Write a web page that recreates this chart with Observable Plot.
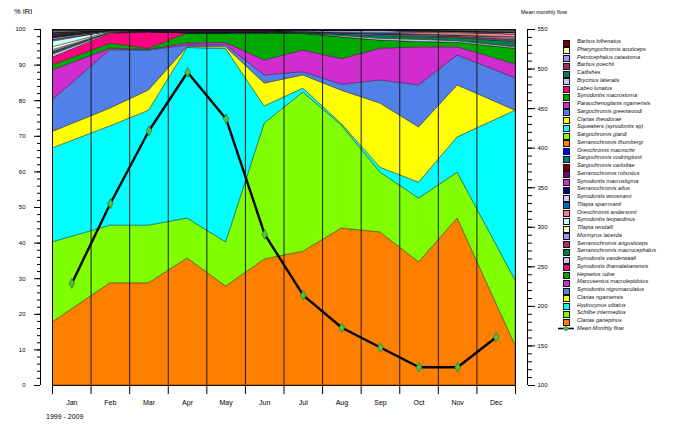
<!DOCTYPE html>
<html><head><meta charset="utf-8">
<script src="https://cdn.jsdelivr.net/npm/d3@7"></script>
<script src="https://cdn.jsdelivr.net/npm/@observablehq/plot@0.6"></script>
<style>
body{margin:0;background:#fff;font-family:"Liberation Sans",Arial,sans-serif;}
#wrap{position:relative;width:673px;height:426px;overflow:hidden;}
#wrap svg{position:absolute;left:0;top:0;}
.lbl{position:absolute;white-space:nowrap;color:#000;line-height:1;}
.leg{position:absolute;left:558px;height:8px;white-space:nowrap;}
.sw{position:absolute;left:5px;top:1px;width:5px;height:5px;border:0.6px solid #111;}
.lt{position:absolute;left:19px;top:0.5px;font-size:5.6px;font-style:italic;line-height:1;color:#111;}
</style></head><body><div id="wrap"></div>
<script>
// ---- data ----
const months = ["Jan","Feb","Mar","Apr","May","Jun","Jul","Aug","Sep","Oct","Nov","Dec"];
const meanMonthlyFlow = [229,330,422,496,437,291,214,173,148,123,123,161];
const flowTicks = [100,150,200,250,300,350,400,450,500,550];
const iriTicks = [0,10,20,30,40,50,60,70,80,90,100];

// %IRI per species (stack order: bottom to top)
const clariasGariepinus        = [17.7,28.7,28.7,35.7,27.8,35.4,37.6,44.1,43.0,34.6,46.9,11.2];
const schilbeIntermedius       = [22.5,16.2,16.2,11.2,12.4,38.2,44.7,28.9,16.8,17.9,12.9,18.3];
const hydrocynusVittatus       = [26.4,27.9,32.3,47.9,54.3,4.8,1.1,0.4,1.4,4.5,9.9,47.7];
const clariasNgamensis         = [4.6,5.0,5.7,0.2,0.5,6.4,3.7,9.4,18.0,15.5,14.6,0.0];
const synodontisNigromaculatus = [8.9,16.4,11.2,0.5,0.6,2.3,0.9,1.7,6.5,11.8,8.4,9.1];
const marcuseniusMacrolepidotus= [8.4,0.4,0.2,0.6,0.6,4.2,6.1,7.2,8.9,10.7,2.3,3.9];
const hepsetusOdoe             = [1.4,1.4,0.3,2.8,2.7,7.6,4.7,6.1,2.3,1.5,1.3,4.4];
const synodontisThamalakanensis= [2.2,2.8,4.6,0,0,0,0,0,0,0,0,0];
const synodontisVanderwaali    = [0.8,0.2,0,0,0,0,0,0.4,0.5,0.6,0.4,0.4];
const serranochromisMacrocephalus=[0.5,0.1,0.1,0.1,0.1,0.2,0.3,0.4,0.8,0.8,0.9,1.5];
const serranochromisAngusticeps= [0.3,0,0,0,0,0,0,0,0,0.3,0.4,0.6];
const mormyrusLacerda          = [0.5,0,0,0,0,0,0.2,0.3,0.4,0.3,0.3,0.4];
const tilapiaRendalli          = [0.8,0.1,0,0,0,0,0,0,0,0,0,0.3];
const synodontisLeopardinus    = [1.6,0.2,0,0,0,0,0,0,0,0,0,0];
const oreochromisAndersonii    = [0.3,0,0,0,0,0,0,0,0,0.5,0.7,0.8];
const tilapiaSparrmanii        = [0.2,0,0,0,0,0,0,0.2,0.4,0,0,0];
const synodontisWoosnami       = [0.4,0.1,0,0,0,0,0.2,0.4,0.5,0.3,0.3,0.4];
const serranochromisAltus      = [0.2,0.1,0.2,0.3,0.3,0.2,0.2,0.2,0.2,0,0,0];
const synodontisMacrostigma    = [0.1,0,0,0,0,0,0,0,0,0.2,0,0];
const serranochromisRobustus   = [0.1,0.1,0.1,0.2,0.2,0.2,0,0,0.1,0,0,0];
const sargochromisCarlottae    = [0.1,0.1,0.2,0.3,0.3,0.3,0.2,0.1,0.1,0.2,0.2,0.3];
const sargochromisCodringtonii = [0.2,0,0,0,0,0,0,0,0,0,0,0];
const oreochromisMacrochir     = [0.1,0,0,0,0,0,0,0,0,0,0,0];
const serranochromisThumbergi  = [0.1,0,0,0,0,0,0,0,0,0,0,0];
const sargochromisGiardi       = [0.1,0,0,0,0,0,0,0,0,0,0,0];
const squeakers                = [0.1,0,0,0,0,0,0,0,0,0,0,0];
const clariasTheodorae         = [0.1,0,0,0,0,0,0,0,0,0,0,0];
const sargochromisGreenwoodi   = [0.1,0,0,0,0,0,0,0,0,0,0,0];
const parauchenoglanisNgamensis= [0.1,0,0,0,0,0,0,0,0,0,0,0];
const synodontisMacrostoma     = [0.1,0,0,0,0,0,0,0,0,0,0,0];
const labeoLunatus             = [0.1,0,0,0,0,0,0,0,0,0,0,0];
const brycinusLateralis        = [0.3,0,0,0,0,0,0,0.1,0,0,0.3,0.4];
const catfishes                = [0.2,0.1,0,0,0,0,0,0,0,0.1,0,0];
const barbusPoechii            = [0.1,0,0,0,0,0,0,0,0,0,0,0];
const petrocephalusCatastoma   = [0.1,0,0,0,0,0,0,0,0,0,0,0.3];
const pharyngochromisAcuticeps = [0.1,0,0,0,0,0,0,0,0,0,0,0];
const barbusBifrenatus         = [0.1,0.1,0.2,0.2,0.2,0.2,0.1,0.1,0.1,0.2,0.2,0];

const species = [
  ["Clarias gariepinus", clariasGariepinus],
  ["Schilbe intermedius", schilbeIntermedius],
  ["Hydrocynus vittatus", hydrocynusVittatus],
  ["Clarias ngamensis", clariasNgamensis],
  ["Synodontis nigromaculatus", synodontisNigromaculatus],
  ["Marcusenius macrolepidotus", marcuseniusMacrolepidotus],
  ["Hepsetus odoe", hepsetusOdoe],
  ["Synodontis thamalakanensis", synodontisThamalakanensis],
  ["Synodontis vanderwaali", synodontisVanderwaali],
  ["Serranochromis macrocephalus", serranochromisMacrocephalus],
  ["Serranochromis angusticeps", serranochromisAngusticeps],
  ["Mormyrus lacerda", mormyrusLacerda],
  ["Tilapia rendalli", tilapiaRendalli],
  ["Synodontis leopardinus", synodontisLeopardinus],
  ["Oreochromis andersonii", oreochromisAndersonii],
  ["Tilapia sparrmanii", tilapiaSparrmanii],
  ["Synodontis woosnami", synodontisWoosnami],
  ["Serranochromis altus", serranochromisAltus],
  ["Synodontis macrostigma", synodontisMacrostigma],
  ["Serranochromis robustus", serranochromisRobustus],
  ["Sargochromis carlottae", sargochromisCarlottae],
  ["Sargochromis codringtonii", sargochromisCodringtonii],
  ["Oreochromis macrochir", oreochromisMacrochir],
  ["Serranochromis thumbergi", serranochromisThumbergi],
  ["Sargochromis giardi", sargochromisGiardi],
  ["Squeakers (synodontis sp)", squeakers],
  ["Clarias theodorae", clariasTheodorae],
  ["Sargochromis greenwoodi", sargochromisGreenwoodi],
  ["Parauchenoglanis ngamensis", parauchenoglanisNgamensis],
  ["Synodontis macrostoma", synodontisMacrostoma],
  ["Labeo lunatus", labeoLunatus],
  ["Brycinus lateralis", brycinusLateralis],
  ["Catfishes", catfishes],
  ["Barbus poechii", barbusPoechii],
  ["Petrocephalus catastoma", petrocephalusCatastoma],
  ["Pharyngochromis acuticeps", pharyngochromisAcuticeps],
  ["Barbus bifrenatus", barbusBifrenatus]
];
const colors = [
  "#FF8000","#80FF00","#00FFFF","#FFFF00","#5080E8","#D02CD0","#00A800","#FF0080",
  "#C8C8F0","#008040","#993366","#9999FF","#FFFFC8","#C8FFFF","#FF8080","#0066CC",
  "#CCCCFF","#000080","#CC33CC","#800080","#800000","#008080","#0000FF",
  "#FF8000","#80FF00","#00FFFF","#FFFF00","#5080E8","#D02CD0","#00A800","#FF0080",
  "#C8C8F0","#008040","#993366","#9999FF","#FFFFC8","#800000"
];

// ---- build ----
const xDomain = [0.5, 12.5];
const yDomain = [0, 100];
const flowDomain = [flowTicks[0], flowTicks[flowTicks.length-1]];
const toPct = f => (f - flowDomain[0]) / (flowDomain[1] - flowDomain[0]) * 100;
const fromPct = p => p / 100 * (flowDomain[1] - flowDomain[0]) + flowDomain[0];
const areaX = i => i === 0 ? xDomain[0] : i === months.length - 1 ? xDomain[1] : i + 1;

const names = species.map(d => d[0]);
const rows = species.flatMap(([name, vals]) => vals.map((v, i) => ({name, x: areaX(i), v})));
const flowRows = meanMonthlyFlow.map((f, i) => ({x: i + 1, p: toPct(f)}));
const boundaries = d3.range(xDomain[0], xDomain[1] + 0.01, 1);
const inner = boundaries.slice(1, -1);
const monthPos = months.map((m, i) => i + 1);

const chart = Plot.plot({
  width: 673, height: 426,
  marginLeft: 52, marginRight: 158, marginTop: 29, marginBottom: 41,
  style: {fontFamily: "Liberation Sans, Arial, sans-serif", fontSize: "6px", background: "white", color: "#000"},
  x: {domain: xDomain, axis: null},
  y: {domain: yDomain, axis: null},
  color: {type: "ordinal", domain: names, range: colors},
  marks: [
    Plot.areaY(rows, {x: "x", y: "v", z: "name", fill: "name", stroke: "#1a1a1a", strokeWidth: 0.5, strokeOpacity: 0.85, curve: "linear", clip: true}),
    Plot.ruleX(inner, {stroke: "#1a1a1a", strokeWidth: 1}),
    Plot.line(flowRows, {x: "x", y: "p", stroke: "#000", strokeWidth: 2.4}),
    Plot.dot(flowRows, {x: "x", y: "p", symbol: "diamond", r: 3, fill: "#4CC24C", stroke: "#2A7A2A", strokeWidth: 0.7}),
    Plot.frame({stroke: "#111", strokeWidth: 1}),
    // left axis
    Plot.ruleX([xDomain[0]], {y1: yDomain[0], y2: yDomain[1], dx: -12, stroke: "#000"}),
    Plot.axisY(d3.range(0, 101, 2), {anchor: "left", dx: -12, tickSize: 3, tickFormat: () => "", label: null}),
    Plot.axisY(iriTicks, {anchor: "left", dx: -12, tickSize: 6, tickPadding: 9, tickFormat: d => d, fontSize: 6, label: null}),
    // right axis
    Plot.ruleX([xDomain[1]], {y1: yDomain[0], y2: yDomain[1], dx: 12, stroke: "#000"}),
    Plot.axisY(d3.range(flowDomain[0], flowDomain[1] + 1, 10).map(toPct), {anchor: "right", dx: 12, tickSize: 4, tickFormat: () => "", label: null}),
    Plot.axisY(flowTicks.map(toPct), {anchor: "right", dx: 12, tickSize: 7, tickPadding: 3, tickFormat: d => Math.round(fromPct(d)), fontSize: 6, label: null}),
    // bottom axis
    Plot.axisX(boundaries, {anchor: "bottom", tickSize: 9, tickFormat: () => "", label: null}),
    Plot.axisX(monthPos, {anchor: "bottom", tickSize: 0, tickPadding: 15, tickFormat: i => months[i - 1], fontSize: 7, label: null})
  ]
});
const wrap = document.getElementById("wrap");
wrap.appendChild(chart);

function label(text, left, top, size, extra) {
  const d = document.createElement("div");
  d.className = "lbl"; d.textContent = text;
  d.style.left = left + "px"; d.style.top = top + "px"; d.style.fontSize = size + "px";
  if (extra) Object.assign(d.style, extra);
  wrap.appendChild(d);
}
label("% IRI", 14, 8, 7.5);
label("Mean monthly flow", 521, 10, 5.5);
label("1999 - 2009", 46, 413, 7);

// legend (top of stack first)
const legendNames = names.slice().reverse();
const legendColors = colors.slice().reverse();
legendNames.forEach((n, i) => {
  const it = document.createElement("div");
  it.className = "leg"; it.style.top = (38.5 + i * 7.75) + "px";
  it.innerHTML = `<div class="sw" style="background:${legendColors[i]}"></div><div class="lt"></div>`;
  it.querySelector(".lt").textContent = n;
  wrap.appendChild(it);
});
const fl = document.createElement("div");
fl.className = "leg"; fl.style.top = (38.5 + legendNames.length * 7.75) + "px";
fl.innerHTML = `<svg width="16" height="8" style="position:absolute;left:0;top:0"><line x1="0" y1="3.5" x2="16" y2="3.5" stroke="#000" stroke-width="1.6"/><path d="M8,0.8 L10.7,3.5 L8,6.2 L5.3,3.5Z" fill="#4CC24C" stroke="#2A7A2A" stroke-width="0.6"/></svg><div class="lt">Mean Monthly flow</div>`;
wrap.appendChild(fl);
</script></body></html>
